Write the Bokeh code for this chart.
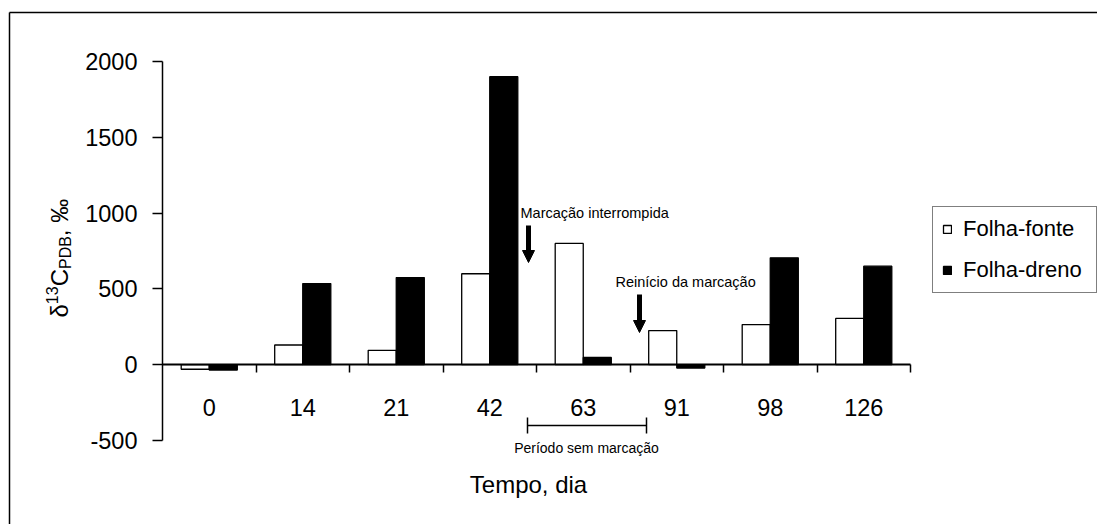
import math
from bokeh.plotting import figure
from bokeh.models import (Range1d, ColumnDataSource, LinearAxis, FixedTicker, Label, Arrow,
                          NormalHead, Legend, LegendItem)
from bokeh.transform import dodge
from bokeh.embed import file_html
from bokeh.resources import INLINE

# ---- data ----
days = ["0", "14", "21", "42", "63", "91", "98", "126"]
folha_fonte = [-30, 130, 95, 600, 800, 225, 265, 305]
folha_dreno = [-35, 535, 575, 1900, 48, -22, 705, 650]
y_ticks = [-500, 0, 500, 1000, 1500, 2000]

# ---- layout (pixels inside the canvas) ----
W, H = 1097, 524
FL, FR, FT, FB = 162, 187, 61, 84          # plot area inside the canvas
Y0, Y1 = -500, 2000
n = len(days)
area_w = W - FL - FR
area_h = H - FT - FB
ppu = area_h / (Y1 - Y0)                   # pixels per data unit
cat_w = area_w / n                         # pixels per category
FONT = "Liberation Sans"


def px2x(px):
    return (px - FL) / cat_w - 0.5


def px2y(py):
    zero = FT + Y1 * ppu
    return (zero - py) / ppu


p = figure(width=W, height=H,
           x_range=Range1d(-0.5 - FL / cat_w, n - 0.5 + FR / cat_w),
           y_range=Range1d(Y0 - FB / ppu, Y1 + FT / ppu),
           output_backend="svg", toolbar_location=None,
           min_border=0, x_axis_location=None, y_axis_location=None)
p.outline_line_color = None
p.grid.visible = False
p.background_fill_color = "white"
p.border_fill_color = "white"

# y axis crossing at the left edge of the first category
yax = LinearAxis(fixed_location=-0.5, bounds=(Y0, Y1),
                 ticker=FixedTicker(ticks=y_ticks),
                 major_label_overrides={t: str(t) for t in y_ticks},
                 major_tick_in=0, major_tick_out=10, minor_tick_line_color=None,
                 major_label_standoff=15,
                 major_label_text_font=FONT, major_label_text_font_size="23.5px",
                 major_label_text_color="black",
                 axis_line_color="black", axis_line_width=1.5,
                 major_tick_line_color="black", major_tick_line_width=1.5)
p.add_layout(yax, "left")

# x axis at y = 0: category labels
idx = list(range(n))
xax = LinearAxis(fixed_location=0, bounds=(-0.5, n - 0.5),
                 ticker=FixedTicker(ticks=idx),
                 major_label_overrides={i: d for i, d in zip(idx, days)},
                 major_tick_in=0, major_tick_out=0, major_tick_line_color=None,
                 minor_tick_line_color=None,
                 major_label_standoff=34,
                 major_label_text_font=FONT, major_label_text_font_size="23.5px",
                 major_label_text_color="black",
                 axis_line_color="black", axis_line_width=2)
p.add_layout(xax, "below")

# x axis tick marks between categories
xtk = LinearAxis(fixed_location=0, bounds=(-0.5, n - 0.5),
                 ticker=FixedTicker(ticks=[i + 0.5 for i in idx]),
                 major_tick_in=0, major_tick_out=8, minor_tick_line_color=None,
                 major_tick_line_color="black", major_tick_line_width=1.5,
                 major_label_text_alpha=0, major_label_text_font_size="1px",
                 axis_line_color=None)
p.add_layout(xtk, "below")

src = ColumnDataSource(dict(idx=idx, day=days, fonte=folha_fonte, dreno=folha_dreno))

r1 = p.vbar(x=dodge("idx", -0.15), top="fonte", bottom=0, width=0.3,
            source=src, fill_color="white", line_color="black", line_width=1.3)
r2 = p.vbar(x=dodge("idx", 0.15), top="dreno", bottom=0, width=0.3,
            source=src, fill_color="black", line_color="black", line_width=1.3)

# legend
legend = Legend(items=[LegendItem(label="Folha-fonte", renderers=[r1]),
                       LegendItem(label="Folha-dreno", renderers=[r2])],
                location=(932, H - 293),
                orientation="vertical",
                label_text_font=FONT, label_text_font_size="22px", label_text_color="black",
                glyph_width=10, glyph_height=10, label_standoff=11, label_height=24,
                label_width=124, spacing=15, padding=9, margin=0,
                border_line_color="black", border_line_width=1.2,
                background_fill_color="white", background_fill_alpha=1)
p.add_layout(legend)


def lab(text, px, py, size, align="left", angle=0.0):
    # (px, py): baseline start; text placed by its middle line
    if angle:
        ax, ay = px - 0.35 * size, py
    else:
        ax, ay = px, py - 0.35 * size
    p.add_layout(Label(x=px2x(ax), y=px2y(ay), text=text, text_font=FONT,
                       text_font_size=f"{size}px", text_color="black",
                       text_align=align, text_baseline="middle", angle=angle))


# annotations
lab("Marcação interrompida", 520, 218, 14.5)
lab("Reinício da marcação", 615, 287, 14.5)
lab("Período sem marcação", 586, 452, 14, align="center")
lab("Tempo, dia", 528, 492, 24, align="center")

for (xs, ys, ye) in [(528, 225, 262), (639, 294, 332)]:
    p.add_layout(Arrow(end=NormalHead(size=12, fill_color="black", line_color="black"),
                       x_start=px2x(xs), y_start=px2y(ys), x_end=px2x(xs), y_end=px2y(ye),
                       line_color="black", line_width=5))

# bracket "Período sem marcação"
bx0, bx1 = px2x(527), px2x(646)
p.segment(x0=[bx0, bx0, bx1], x1=[bx1, bx0, bx1],
          y0=[px2y(425), px2y(417), px2y(417)], y1=[px2y(425), px2y(433), px2y(433)],
          line_color="black", line_width=1.5)

# y axis title: δ13C(PDB), ‰ rotated
pieces = [("δ", 24, 67, 0.556), ("13", 16, 57, 1.112), ("C", 24, 67, 0.722),
          ("PDB", 16, 71, 2.056), (", ‰", 24, 67, 1.556)]
ystart = 317
for text, size, bx, em in pieces:
    lab(text, bx, ystart, size, angle=math.pi / 2)
    ystart -= em * size

# outer chart border (left and top edges visible)
cx, cy = px2x(9), px2y(12)
p.segment(x0=[cx, cx], y0=[cy, cy], x1=[cx, px2x(W + 5)], y1=[px2y(H + 5), cy],
          line_color="black", line_width=1.5)

open("out.html", "w").write(file_html(p, INLINE))
